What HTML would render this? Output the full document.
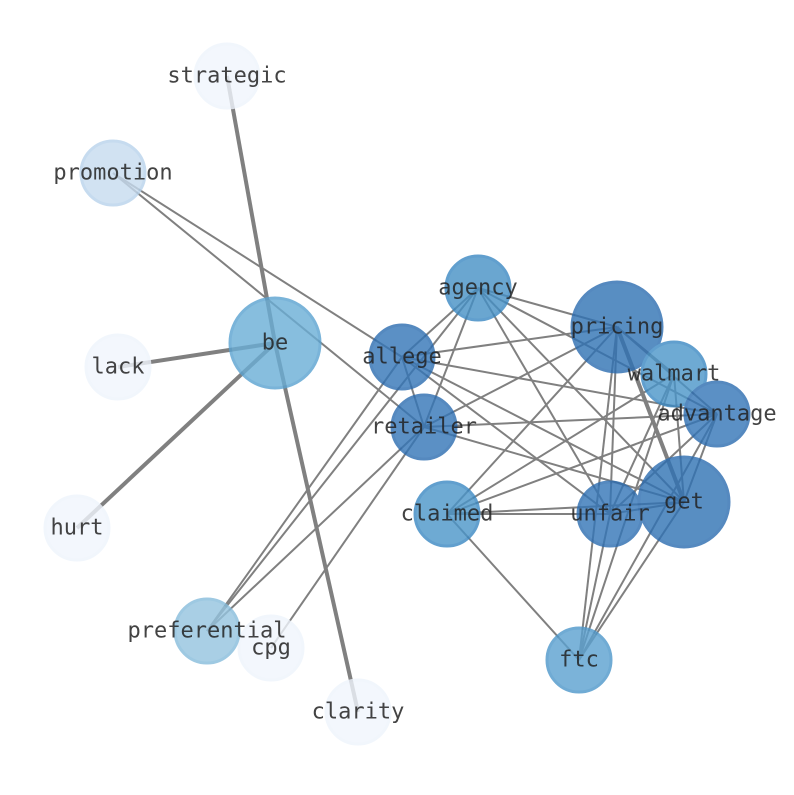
<!DOCTYPE html>
<html><head><meta charset="utf-8"><style>html,body{margin:0;padding:0;background:#fff}</style></head>
<body>
<svg width="794" height="790" xmlns="http://www.w3.org/2000/svg" font-family="'DejaVu Sans Mono','Liberation Mono',monospace" font-size="22">
<g stroke="#808080" stroke-width="2" fill="none">
<line x1="275" y1="343" x2="227" y2="76" stroke-width="4"/>
<line x1="275" y1="343" x2="118" y2="367" stroke-width="4"/>
<line x1="275" y1="343" x2="77" y2="528" stroke-width="4"/>
<line x1="275" y1="343" x2="358" y2="712" stroke-width="4"/>
<line x1="113" y1="173" x2="402" y2="357"/>
<line x1="113" y1="173" x2="424" y2="427"/>
<line x1="207" y1="631" x2="478" y2="288"/>
<line x1="207" y1="631" x2="402" y2="357"/>
<line x1="207" y1="631" x2="424" y2="427"/>
<line x1="271" y1="648" x2="424" y2="427"/>
<line x1="478" y1="288" x2="402" y2="357"/>
<line x1="478" y1="288" x2="424" y2="427"/>
<line x1="478" y1="288" x2="617" y2="327"/>
<line x1="478" y1="288" x2="717" y2="414"/>
<line x1="478" y1="288" x2="610" y2="514"/>
<line x1="478" y1="288" x2="684" y2="502"/>
<line x1="402" y1="357" x2="617" y2="327"/>
<line x1="402" y1="357" x2="717" y2="414"/>
<line x1="402" y1="357" x2="610" y2="514"/>
<line x1="402" y1="357" x2="684" y2="502"/>
<line x1="402" y1="357" x2="424" y2="427"/>
<line x1="424" y1="427" x2="617" y2="327"/>
<line x1="424" y1="427" x2="717" y2="414"/>
<line x1="424" y1="427" x2="684" y2="502"/>
<line x1="447" y1="514" x2="617" y2="327"/>
<line x1="447" y1="514" x2="674" y2="374"/>
<line x1="447" y1="514" x2="717" y2="414"/>
<line x1="447" y1="514" x2="610" y2="514"/>
<line x1="447" y1="514" x2="684" y2="502"/>
<line x1="447" y1="514" x2="579" y2="660"/>
<line x1="617" y1="327" x2="684" y2="502" stroke-width="4"/>
<line x1="617" y1="327" x2="610" y2="514"/>
<line x1="617" y1="327" x2="579" y2="660"/>
<line x1="617" y1="327" x2="674" y2="374"/>
<line x1="617" y1="327" x2="717" y2="414"/>
<line x1="674" y1="374" x2="684" y2="502"/>
<line x1="674" y1="374" x2="610" y2="514"/>
<line x1="674" y1="374" x2="579" y2="660"/>
<line x1="717" y1="414" x2="610" y2="514"/>
<line x1="717" y1="414" x2="684" y2="502"/>
<line x1="717" y1="414" x2="579" y2="660"/>
<line x1="610" y1="514" x2="579" y2="660"/>
<line x1="610" y1="514" x2="684" y2="502"/>
<line x1="684" y1="502" x2="579" y2="660"/>
</g>
<g stroke-width="3" opacity="0.8">
<circle cx="227" cy="76" r="32" fill="#f1f6fd" stroke="#eef4fc"/>
<circle cx="113" cy="173" r="32" fill="#c6dbef" stroke="#b8d3ec"/>
<circle cx="118" cy="367" r="32" fill="#f1f6fd" stroke="#eef4fc"/>
<circle cx="77" cy="528" r="32" fill="#f1f6fd" stroke="#eef4fc"/>
<circle cx="275" cy="343" r="45" fill="#6aaed6" stroke="#5aa2d0"/>
<circle cx="271" cy="648" r="32" fill="#f1f6fd" stroke="#eef4fc"/>
<circle cx="207" cy="631" r="32" fill="#94c4df" stroke="#86bcdc"/>
<circle cx="358" cy="712" r="32" fill="#f1f6fd" stroke="#eef4fc"/>
<circle cx="478" cy="288" r="32" fill="#4590c5" stroke="#3a88c2"/>
<circle cx="617" cy="327" r="45" fill="#2f72b4" stroke="#2b6cb0"/>
<circle cx="674" cy="374" r="32" fill="#4a95c9" stroke="#3a88c2"/>
<circle cx="717" cy="414" r="32" fill="#3375b7" stroke="#2b6cb0"/>
<circle cx="402" cy="357" r="32" fill="#3375b7" stroke="#2b6cb0"/>
<circle cx="424" cy="427" r="32" fill="#3375b7" stroke="#2b6cb0"/>
<circle cx="447" cy="514" r="32" fill="#4a95c9" stroke="#3a88c2"/>
<circle cx="610" cy="514" r="32" fill="#3375b7" stroke="#2b6cb0"/>
<circle cx="684" cy="502" r="45" fill="#2f72b4" stroke="#2b6cb0"/>
<circle cx="579" cy="660" r="32" fill="#5ba1d0" stroke="#4d97ca"/>
</g>
<g fill="#222" fill-opacity="0.85" text-anchor="middle" dominant-baseline="central">
<text x="227" y="76">strategic</text>
<text x="113" y="173">promotion</text>
<text x="118" y="367">lack</text>
<text x="77" y="528">hurt</text>
<text x="275" y="343">be</text>
<text x="207" y="631">preferential</text>
<text x="271" y="648">cpg</text>
<text x="358" y="712">clarity</text>
<text x="478" y="288">agency</text>
<text x="617" y="327">pricing</text>
<text x="674" y="374">walmart</text>
<text x="717" y="414">advantage</text>
<text x="402" y="357">allege</text>
<text x="424" y="427">retailer</text>
<text x="447" y="514">claimed</text>
<text x="610" y="514">unfair</text>
<text x="684" y="502">get</text>
<text x="579" y="660">ftc</text>
</g>
</svg>
</body></html>
